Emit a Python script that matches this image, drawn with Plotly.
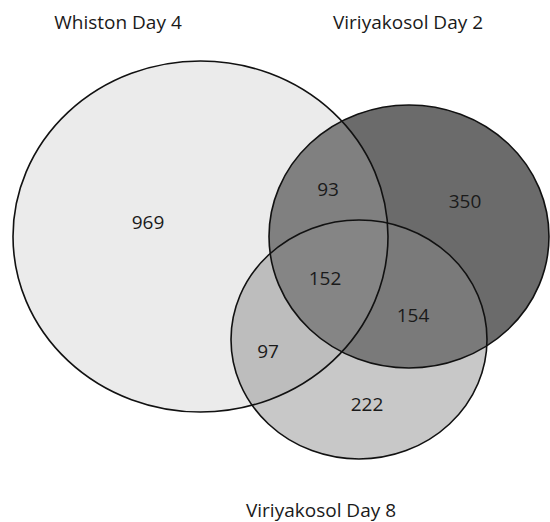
import plotly.graph_objects as go

# Data
set_names = ["Whiston Day 4", "Viriyakosol Day 2", "Viriyakosol Day 8"]
region_labels = ["A only", "B only", "C only", "A∩B", "A∩C", "B∩C", "A∩B∩C"]
region_counts = [969, 350, 222, 93, 97, 154, 152]

# Layout (pixel space)
W, H = 550, 522
circles = {  # x0, y0, x1, y1
    "A": (13, 61, 388, 412),
    "B": (269, 105, 549, 368),
    "C": (231, 220, 487, 459),
}
fills = {
    "B": "rgba(107,107,107,1)",
    "A": "rgba(183,183,183,0.277)",
    "C": "rgba(139,139,139,0.473)",
}
region_pos = [(148, 224), (465, 203), (367, 406), (328, 191), (268, 353), (413, 317), (325, 280)]
name_pos = [(118, 24), (408, 24), (321, 512)]

fig = go.Figure()
shapes = []
for k in ["B", "A", "C"]:
    x0, y0, x1, y1 = circles[k]
    shapes.append(dict(type="circle", xref="x", yref="y", x0=x0, y0=y0, x1=x1, y1=y1,
                       fillcolor=fills[k], line=dict(width=0), layer="below"))
for k in ["A", "B", "C"]:
    x0, y0, x1, y1 = circles[k]
    shapes.append(dict(type="circle", xref="x", yref="y", x0=x0, y0=y0, x1=x1, y1=y1,
                       fillcolor="rgba(0,0,0,0)", line=dict(color="#111111", width=1.6), layer="below"))

fig.add_trace(go.Scatter(
    x=[p[0] for p in region_pos], y=[p[1] for p in region_pos],
    text=[str(v) for v in region_counts], mode="text",
    textfont=dict(family="Open Sans", size=19, color="#1a1a1a"),
    hovertext=region_labels, showlegend=False))
fig.add_trace(go.Scatter(
    x=[p[0] for p in name_pos], y=[p[1] for p in name_pos],
    text=set_names, mode="text",
    textfont=dict(family="Open Sans", size=19, color="#1a1a1a"),
    showlegend=False))

fig.update_layout(
    width=W, height=H, margin=dict(l=0, r=0, t=0, b=0),
    paper_bgcolor="white", plot_bgcolor="white", shapes=shapes,
    xaxis=dict(range=[0, W], visible=False, fixedrange=True),
    yaxis=dict(range=[H, 0], visible=False, fixedrange=True),
)
fig.write_html(
    "out.html",
    config={"displayModeBar": False},
    post_script="document.body.style.margin='0';document.body.style.overflow='hidden';",
)
